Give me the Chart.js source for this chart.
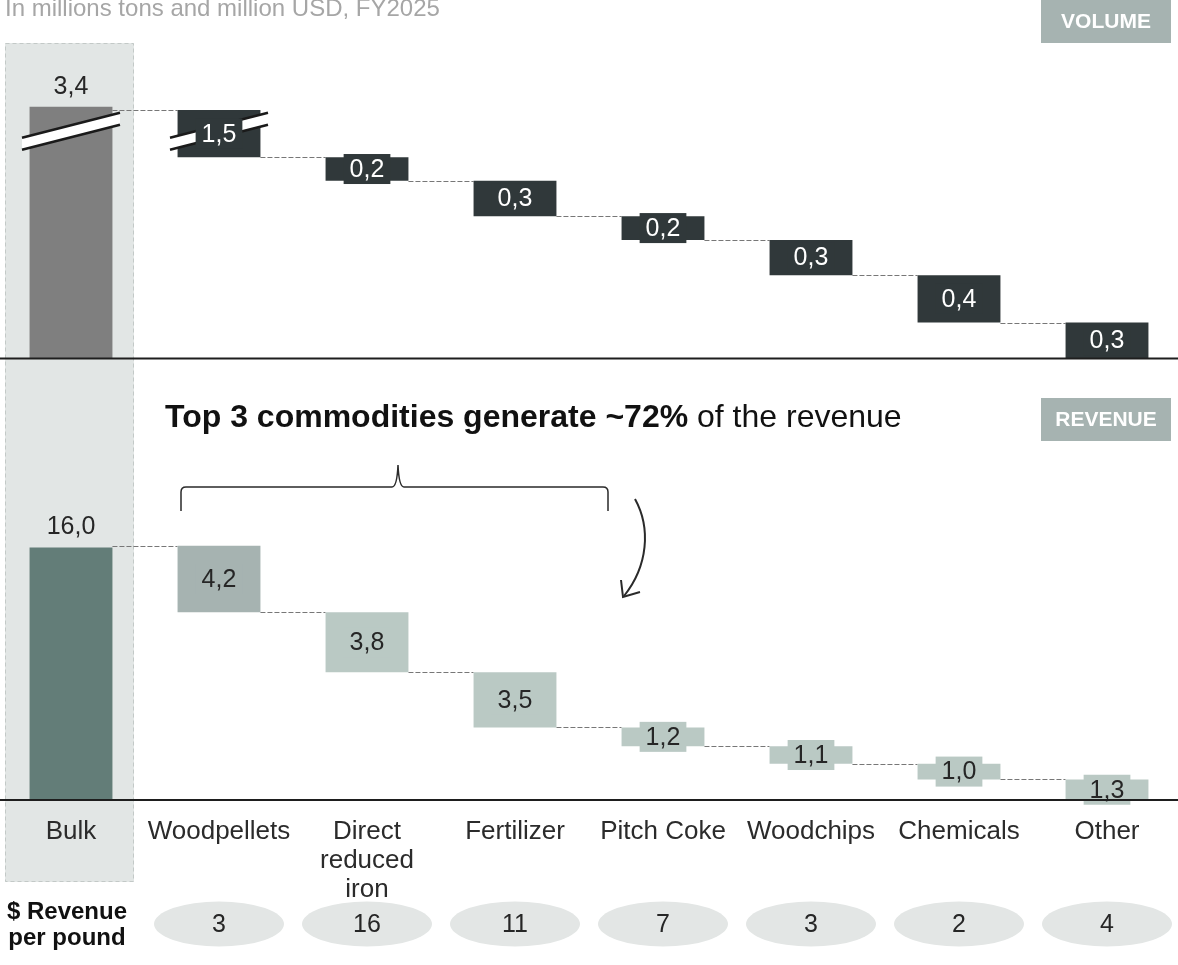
<!DOCTYPE html>
<html lang="en">
<head>
<meta charset="UTF-8">
<title>Bulk volume and revenue by commodity</title>
<script src="https://cdn.jsdelivr.net/npm/chart.js@4.4.0/dist/chart.umd.min.js"></script>
<style>
  html, body { margin: 0; padding: 0; overflow: hidden; background: #fff; }
  /* canvas is 3px wider on each side so the category columns line up with the page */
  #chart { position: absolute; left: -3px; top: 0; }
</style>
</head>
<body>
<canvas id="chart" width="1184" height="965"></canvas>
<script>
// Commodities (first entry is the total)
const categories = ['Bulk', 'Woodpellets', ['Direct', 'reduced', 'iron'], 'Fertilizer', 'Pitch Coke', 'Woodchips', 'Chemicals', 'Other'];
// Volume, million tons
const volumeTotal = 3.4;
const volumeParts = [1.5, 0.2, 0.3, 0.2, 0.3, 0.4, 0.3];
// Revenue, million USD
const revenueTotal = 16.0;
const revenueParts = [4.2, 3.8, 3.5, 1.2, 1.1, 1.0, 1.3];
// $ revenue per pound, for each commodity after Bulk
const revenuePerPound = [3, 16, 11, 7, 3, 2, 4];

const FONT = "'Liberation Sans', Arial, Helvetica, sans-serif";
const DARK = '#30383a';
const OFF = 3; // canvas left offset, page px

// stack the parts from the baseline up, total bar starts at zero
function waterfall(total, parts) {
  const bars = [[0, total]];
  let level = parts.reduce((a, b) => a + b, 0);
  parts.forEach(p => { bars.push([level - p, level]); level -= p; });
  return bars;
}
const fmt = v => v.toFixed(1).replace('.', ',');

// linear scale with a compressed section above brk.at (axis break)
const LinearScale = Chart.registry.getScale('linear');
class BrokenLinearScale extends LinearScale {
  squash(v) {
    const b = this.options.brk;
    return v > b.at ? b.at + (v - b.at) * b.ratio : v;
  }
  getPixelForValue(v) {
    return super.getPixelForValue(this.squash(v));
  }
}
BrokenLinearScale.id = 'brokenLinear';
BrokenLinearScale.defaults = LinearScale.defaults;
Chart.register(BrokenLinearScale);

function drawBreak(ctx, cx, cy) {
  const half = 49, slope = 0.255, gap = 6;
  const x0 = cx - half, x1 = cx + half;
  const y0 = cy + half * slope, y1 = cy - half * slope;
  ctx.fillStyle = '#fff';
  ctx.beginPath();
  ctx.moveTo(x0, y0 - gap); ctx.lineTo(x1, y1 - gap);
  ctx.lineTo(x1, y1 + gap); ctx.lineTo(x0, y0 + gap);
  ctx.closePath(); ctx.fill();
  ctx.strokeStyle = '#1a1a1a';
  ctx.lineWidth = 2.5;
  ctx.beginPath();
  ctx.moveTo(x0, y0 - gap); ctx.lineTo(x1, y1 - gap);
  ctx.moveTo(x0, y0 + gap); ctx.lineTo(x1, y1 + gap);
  ctx.stroke();
}

function badge(ctx, text, x, y) {
  ctx.fillStyle = '#a6b3b1';
  ctx.fillRect(x, y, 130, 43);
  ctx.fillStyle = '#fff';
  ctx.font = 'bold 21px ' + FONT;
  ctx.textAlign = 'center';
  ctx.textBaseline = 'middle';
  ctx.fillText(text, x + 65, y + 22);
}

const decor = {
  id: 'decor',
  beforeDraw(chart) {
    const {ctx} = chart;
    ctx.save();
    ctx.translate(OFF, 0);
    ctx.fillStyle = '#e2e6e5';
    ctx.fillRect(5, 43, 129, 839);
    ctx.setLineDash([4, 3]);
    ctx.strokeStyle = '#c3c9c7';
    ctx.lineWidth = 1;
    ctx.strokeRect(5.5, 43.5, 128, 838);
    ctx.restore();
  },
  beforeDatasetsDraw(chart) {
    const {ctx} = chart;
    ctx.save();
    ctx.setLineDash([5, 2]);
    ctx.strokeStyle = '#777';
    ctx.lineWidth = 1;
    chart.data.datasets.forEach((ds, di) => {
      const bars = chart.getDatasetMeta(di).data;
      for (let i = 0; i < bars.length - 1; i++) {
        const a = bars[i], b = bars[i + 1];
        const y = Math.round(b.y) + 0.5;
        ctx.beginPath();
        ctx.moveTo(a.x + a.width / 2, y);
        ctx.lineTo(b.x - b.width / 2, y);
        ctx.stroke();
      }
    });
    ctx.restore();
  },
  afterDatasetsDraw(chart) {
    const {ctx} = chart;
    const yV = chart.scales.yV;
    ctx.save();
    // axis break on the bars that cross it
    const brkAt = yV.options.brk.at;
    const brkY = yV.getPixelForValue(brkAt);
    chart.getDatasetMeta(0).data.forEach((bar, i) => {
      const [lo, hi] = chart.data.datasets[0].data[i];
      if (lo < brkAt && hi > brkAt) drawBreak(ctx, bar.x, brkY);
    });
    // value labels
    ctx.font = '25px ' + FONT;
    ctx.textAlign = 'center';
    ctx.textBaseline = 'middle';
    chart.data.datasets.forEach((ds, di) => {
      const values = ds.values;
      chart.getDatasetMeta(di).data.forEach((bar, i) => {
        const text = fmt(values[i]);
        if (i === 0) {
          ctx.fillStyle = '#262626';
          ctx.fillText(text, bar.x, bar.y - 20);
          return;
        }
        const cy = (bar.y + bar.base) / 2;
        const w = ctx.measureText(text).width + 12;
        ctx.fillStyle = ds.backgroundColor[i];
        ctx.fillRect(bar.x - w / 2, cy - 15, w, 30);
        ctx.fillStyle = ds.labelColor;
        ctx.fillText(text, bar.x, cy + 1);
      });
    });
    // baselines
    ctx.fillStyle = '#1e1e1e';
    ctx.fillRect(0, Math.round(yV.getPixelForValue(0)) - 0.5, chart.width, 2);
    ctx.fillRect(0, Math.round(chart.scales.yR.getPixelForValue(0)) - 1, chart.width, 2);
    ctx.restore();
  },
  afterDraw(chart) {
    const {ctx} = chart;
    const x = chart.scales.x;
    ctx.save();
    ctx.translate(OFF, 0);
    // subtitle
    ctx.font = '24px ' + FONT;
    ctx.fillStyle = '#a6a6a6';
    ctx.textAlign = 'left';
    ctx.textBaseline = 'alphabetic';
    ctx.fillText('In millions tons and million USD, FY2025', 5, 16);

    badge(ctx, 'VOLUME', 1041, 0);
    badge(ctx, 'REVENUE', 1041, 398);

    // headline
    ctx.textAlign = 'left';
    ctx.textBaseline = 'alphabetic';
    ctx.fillStyle = '#111';
    ctx.font = 'bold 32px ' + FONT;
    const bold = 'Top 3 commodities generate ~72%';
    ctx.fillText(bold, 165, 427);
    const bw = ctx.measureText(bold).width;
    ctx.font = '32px ' + FONT;
    ctx.fillText(' of the revenue', 165 + bw, 427);

    // brace over the top three
    ctx.strokeStyle = '#2a2a2a';
    ctx.lineWidth = 1.5;
    ctx.beginPath();
    ctx.moveTo(181, 511);
    ctx.lineTo(181, 492);
    ctx.quadraticCurveTo(181, 487, 186, 487);
    ctx.lineTo(392, 487);
    ctx.quadraticCurveTo(397, 487, 398, 465);
    ctx.quadraticCurveTo(399, 487, 404, 487);
    ctx.lineTo(603, 487);
    ctx.quadraticCurveTo(608, 487, 608, 492);
    ctx.lineTo(608, 511);
    ctx.stroke();

    // curved arrow
    ctx.lineWidth = 2;
    ctx.beginPath();
    ctx.moveTo(635, 499);
    ctx.bezierCurveTo(651, 528, 648, 566, 624, 596);
    ctx.stroke();
    ctx.beginPath();
    ctx.moveTo(621, 580);
    ctx.lineTo(623, 597);
    ctx.lineTo(640, 592);
    ctx.stroke();

    // revenue per pound row
    ctx.fillStyle = '#111';
    ctx.font = 'bold 24px ' + FONT;
    ctx.textAlign = 'center';
    ctx.textBaseline = 'middle';
    ctx.fillText('$ Revenue', 67, 912);
    ctx.fillText('per pound', 67, 938);
    ctx.font = '25px ' + FONT;
    revenuePerPound.forEach((v, i) => {
      const cx = x.getPixelForValue(i + 1) - OFF;
      ctx.fillStyle = '#e3e6e5';
      ctx.beginPath();
      ctx.ellipse(cx, 924, 65, 22.5, 0, 0, Math.PI * 2);
      ctx.fill();
      ctx.fillStyle = '#262626';
      ctx.fillText(String(v), cx, 925);
    });
    ctx.restore();
  }
};

const volumeColors = ['#7f7f7f'].concat(volumeParts.map(() => DARK));
const revenueColors = ['#637d78', '#a6b3b1'].concat(revenueParts.slice(1).map(() => '#bac9c4'));

new Chart(document.getElementById('chart'), {
  type: 'bar',
  data: {
    labels: categories,
    datasets: [
      {
        label: 'Volume',
        data: waterfall(volumeTotal, volumeParts),
        values: [volumeTotal].concat(volumeParts),
        labelColor: '#fff',
        yAxisID: 'yV',
        backgroundColor: volumeColors,
        grouped: false,
        barPercentage: 0.56,
        categoryPercentage: 1
      },
      {
        label: 'Revenue',
        data: waterfall(revenueTotal, revenueParts),
        values: [revenueTotal].concat(revenueParts),
        labelColor: '#262626',
        yAxisID: 'yR',
        backgroundColor: revenueColors,
        grouped: false,
        barPercentage: 0.56,
        categoryPercentage: 1
      }
    ]
  },
  options: {
    responsive: false,
    animation: false,
    events: [],
    layout: { padding: { top: 45, left: 0, right: 0, bottom: 0 } },
    plugins: { legend: { display: false }, tooltip: { enabled: false } },
    scales: {
      x: {
        grid: { display: false },
        border: { display: false },
        ticks: {
          autoSkip: false,
          maxRotation: 0,
          padding: 10,
          color: '#2b2b2b',
          font: { family: FONT, size: 26, lineHeight: 1.1 }
        },
        afterFit(s) { s.height = 165; }
      },
      yR: {
        type: 'linear', display: false, position: 'left',
        stack: 'rows', stackWeight: 442, weight: 1,
        min: 0, max: 28, bounds: 'data'
      },
      yV: {
        type: 'brokenLinear', display: false, position: 'left',
        stack: 'rows', stackWeight: 313, weight: 2,
        min: 0, max: 2.65, bounds: 'data',
        brk: { at: 1.92, ratio: 0.14 }
      }
    }
  },
  plugins: [decor]
});
</script>
</body>
</html>
